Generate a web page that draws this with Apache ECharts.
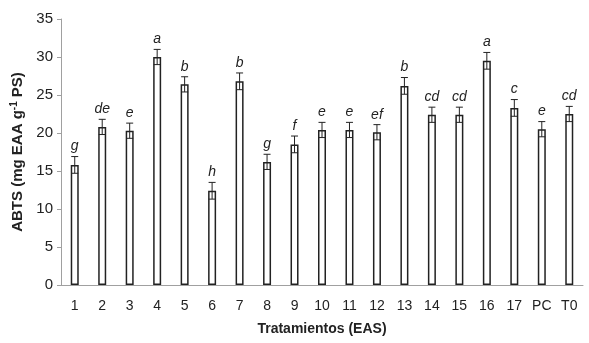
<!DOCTYPE html>
<html>
<head>
<meta charset="utf-8">
<script src="https://cdn.jsdelivr.net/npm/echarts@6/dist/echarts.min.js"></script>
<style>
  html, body { margin: 0; padding: 0; background: #fff; }
  #chart { width: 589px; height: 343px; }
</style>
</head>
<body>
<div id="chart"></div>
<script>
  // values
  var categories = ['1', '2', '3', '4', '5', '6', '7', '8', '9', '10', '11', '12', '13', '14', '15', '16', '17', 'PC', 'T0'];
  var means = [15.8, 20.8, 20.3, 30.0, 26.4, 12.4, 26.8, 16.2, 18.5, 20.4, 20.4, 20.1, 26.2, 22.4, 22.4, 29.5, 23.3, 20.5, 22.5];
  var errors = [1.1, 1.0, 1.0, 1.0, 1.0, 1.1, 1.1, 1.0, 1.1, 1.0, 1.0, 1.0, 1.1, 1.0, 1.0, 1.1, 1.1, 1.0, 1.0];
  var letters = ['g', 'de', 'e', 'a', 'b', 'h', 'b', 'g', 'f', 'e', 'e', 'ef', 'b', 'cd', 'cd', 'a', 'c', 'e', 'cd'];

  var chart = echarts.init(document.getElementById('chart'));

  var errData = means.map(function (m, i) {
    return [i, m - errors[i], m + errors[i]];
  });

  chart.setOption({
    backgroundColor: '#ffffff',
    animation: false,
    textStyle: { fontFamily: 'Liberation Sans' },
    grid: { left: 61, right: 6, top: 19, bottom: 58 },
    xAxis: {
      type: 'category',
      data: categories,
      name: 'Tratamientos (EAS)',
      nameLocation: 'middle',
      nameGap: 37,
      nameTextStyle: { fontSize: 14, fontWeight: 'bold', color: '#222' },
      axisLine: { lineStyle: { color: '#a0a0a0', width: 1 } },
      axisTick: { show: false },
      axisLabel: { fontSize: 14, color: '#222', margin: 14 }
    },
    yAxis: {
      type: 'value',
      min: 0,
      max: 35,
      interval: 5,
      name: '{a|ABTS (mg EAA g}{s|-1}{a| PS)}',
      nameLocation: 'middle',
      nameGap: 34,
      nameTextStyle: {
        rich: {
          a: { fontSize: 15, fontWeight: 'bold', color: '#222', fontFamily: 'Liberation Sans' },
          s: { fontSize: 10, fontWeight: 'bold', color: '#222', fontFamily: 'Liberation Sans', padding: [0, 0, 7, 0] }
        }
      },
      axisLine: { show: true, lineStyle: { color: '#a0a0a0', width: 1 } },
      axisTick: { show: true, length: 4, lineStyle: { color: '#a0a0a0' } },
      splitLine: { show: false },
      axisLabel: { fontSize: 15, color: '#222', margin: 8 }
    },
    series: [
      {
        type: 'bar',
        data: means,
        barWidth: 8,
        itemStyle: { color: '#ffffff', borderColor: '#222', borderWidth: 1.5 }
      },
      {
        type: 'custom',
        data: errData,
        z: 10,
        renderItem: function (params, api) {
          var x = api.value(0);
          var lo = api.coord([x, api.value(1)]);
          var hi = api.coord([x, api.value(2)]);
          var cap = 3.5;
          var style = { stroke: '#222', lineWidth: 1 };
          return {
            type: 'group',
            children: [
              { type: 'line', shape: { x1: lo[0], y1: lo[1], x2: hi[0], y2: hi[1] }, style: style },
              { type: 'line', shape: { x1: lo[0] - cap, y1: lo[1], x2: lo[0] + cap, y2: lo[1] }, style: style },
              { type: 'line', shape: { x1: hi[0] - cap, y1: hi[1], x2: hi[0] + cap, y2: hi[1] }, style: style },
              {
                type: 'text',
                style: {
                  text: letters[params.dataIndex],
                  x: hi[0],
                  y: hi[1] - 3,
                  align: 'center',
                  verticalAlign: 'bottom',
                  font: 'italic 14px "Liberation Sans"',
                  fill: '#222'
                }
              }
            ]
          };
        }
      }
    ]
  });
</script>
</body>
</html>
